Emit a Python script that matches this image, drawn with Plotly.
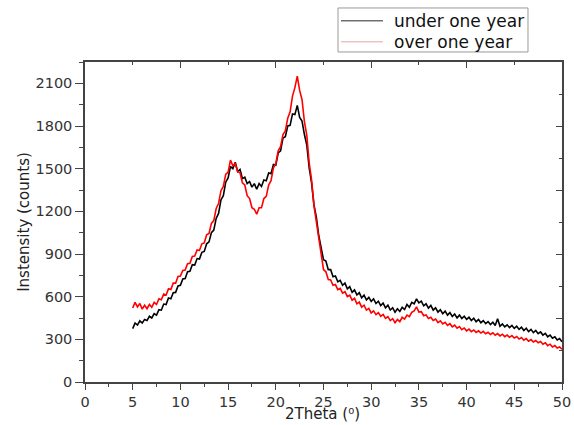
import plotly.graph_objects as go

# 2-theta sampling grid (degrees), 0.25 deg step from 5 to 50
theta_start, theta_step, n_points = 5.0, 0.25, 181
two_theta = [theta_start + theta_step * i for i in range(n_points)]

under_one_year = [
    375, 415, 400, 430, 415, 440, 432, 462, 450, 480, 470, 508, 505, 548, 545, 590,
    585, 628, 630, 675, 680, 725, 728, 775, 778, 825, 822, 868, 865, 912, 918, 972,
    985, 1050, 1068, 1150, 1185, 1280, 1310, 1405, 1435, 1515, 1500, 1545, 1480, 1495,
    1430, 1440, 1395, 1410, 1370, 1395, 1355, 1395, 1375, 1420, 1415, 1470, 1465, 1530,
    1525, 1610, 1625, 1715, 1725, 1800, 1805, 1885, 1880, 1945, 1860, 1835, 1740, 1665,
    1505, 1400, 1245, 1160, 1030, 955, 860, 850, 790, 790, 740, 745, 705, 715, 680, 695,
    655, 670, 630, 648, 612, 628, 592, 610, 577, 595, 566, 585, 552, 568, 537, 555,
    522, 540, 506, 522, 490, 515, 496, 525, 510, 545, 525, 560, 550, 585, 556, 568,
    536, 550, 520, 538, 505, 522, 491, 508, 480, 498, 470, 488, 461, 478, 451, 470,
    446, 462, 440, 455, 432, 448, 424, 440, 417, 432, 410, 425, 404, 420, 397, 445,
    392, 408, 387, 402, 382, 398, 377, 392, 370, 385, 362, 378, 354, 370, 347, 362,
    340, 352, 330, 342, 318, 330, 308, 318, 296, 305, 282]

over_one_year = [
    520, 560, 528, 552, 512, 540, 515, 545, 525, 560, 545, 585, 578, 618, 612, 655,
    650, 695, 695, 742, 745, 785, 788, 832, 835, 882, 885, 928, 925, 972, 978, 1035,
    1045, 1115, 1135, 1220, 1255, 1345, 1375, 1460, 1475, 1560, 1520, 1535, 1480, 1470,
    1400, 1385, 1310, 1290, 1225, 1215, 1180, 1225, 1225, 1290, 1305, 1385, 1415, 1505,
    1535, 1625, 1655, 1740, 1765, 1855, 1900, 2010, 2070, 2150, 2050, 1985, 1830, 1735,
    1540, 1420, 1240, 1130, 985, 890, 790, 775, 720, 718, 680, 685, 650, 658, 625, 635,
    600, 610, 575, 588, 550, 562, 526, 540, 506, 518, 486, 500, 474, 488, 462, 475,
    447, 460, 432, 445, 417, 440, 424, 455, 442, 470, 460, 490, 500, 528, 492, 495,
    466, 472, 447, 455, 432, 442, 418, 430, 408, 420, 398, 410, 388, 400, 378, 390,
    368, 380, 360, 372, 354, 366, 349, 360, 344, 356, 339, 350, 334, 346, 329, 340,
    324, 336, 319, 330, 314, 326, 309, 320, 302, 313, 294, 305, 287, 298, 281, 292,
    276, 285, 266, 276, 256, 266, 246, 256, 239, 246, 230]

series_names = ["under one year", "over one year"]
series_colors = ["#000000", "#ff0000"]
legend_sample_colors = ["#707070", "#eec2c2"]
x_title = "2Theta (\u2070)"
y_title = "Instensity (counts)"

FONT = "DejaVu Sans, Verdana, sans-serif"

fig = go.Figure()
for yvals, name, col in zip([under_one_year, over_one_year], series_names, series_colors):
    fig.add_trace(go.Scatter(x=two_theta, y=yvals, mode="lines", name=name,
                             line=dict(color=col, width=1.6), showlegend=False))
# dummy trace for the mirrored axes
fig.add_trace(go.Scatter(x=[None], y=[None], xaxis="x2", yaxis="y2",
                         showlegend=False, hoverinfo="skip"))

# boxed legend drawn in paper coordinates (above the plot, right side)
leg_x0, leg_x1, leg_y0, leg_y1 = 0.5304, 0.9287, 1.0313, 1.1688
row_y = [1.1291, 1.0634]
line_x0, line_x1, text_x = 0.5367, 0.6247, 0.6436
shapes = [dict(type="rect", xref="paper", yref="paper", x0=leg_x0, x1=leg_x1,
               y0=leg_y0, y1=leg_y1, line=dict(color="#9a9a9a", width=1),
               fillcolor="white", layer="above")]
annotations = []
for ry, name, col in zip(row_y, series_names, legend_sample_colors):
    shapes.append(dict(type="line", xref="paper", yref="paper", x0=line_x0, x1=line_x1,
                       y0=ry, y1=ry, line=dict(color=col, width=1.5), layer="above"))
    annotations.append(dict(xref="paper", yref="paper", x=text_x, y=ry, text=name,
                            showarrow=False, xanchor="left", yanchor="middle",
                            font=dict(family=FONT, size=17, color="#111111")))
# x-axis title, sitting at the bottom edge as in the reference
annotations.append(dict(xref="paper", yref="paper", x=0.497, y=-0.1344, text=x_title,
                        showarrow=False, xanchor="center", yanchor="bottom",
                        font=dict(family=FONT, size=15, color="#222222")))

axis_font = dict(family=FONT, size=14.5, color="#333333")
line_col = "#444444"

fig.update_layout(
    width=574, height=425,
    margin=dict(l=85, r=12, t=62, b=43),
    plot_bgcolor="white", paper_bgcolor="white",
    font=axis_font,
    showlegend=False,
    shapes=shapes,
    annotations=annotations,
    xaxis=dict(range=[0, 50], dtick=5, tick0=0, showgrid=False, zeroline=False,
               automargin=False,
               showline=True, linecolor=line_col, linewidth=1.5,
               ticks="outside", ticklen=6, tickwidth=1.3, tickcolor=line_col,
               minor=dict(dtick=2.5, ticks="outside", ticklen=3, tickcolor=line_col, tickwidth=1.2),
               tickfont=axis_font),
    yaxis=dict(range=[0, 2250], dtick=300, tick0=0, showgrid=False, zeroline=False,
               automargin=False,
               showline=True, linecolor=line_col, linewidth=1.5,
               ticks="outside", ticklen=8, tickwidth=1.3, tickcolor=line_col,
               minor=dict(dtick=150, ticks="outside", ticklen=4, tickcolor=line_col, tickwidth=1.2),
               tickfont=axis_font,
               title=dict(text=y_title, font=dict(family=FONT, size=15, color="#222222"), standoff=2)),
    xaxis2=dict(overlaying="x", side="top", range=[0, 50], dtick=10, tick0=0,
                automargin=False,
                showgrid=False, zeroline=False, showticklabels=False,
                showline=True, linecolor=line_col, linewidth=1.5,
                ticks="inside", ticklen=6, tickwidth=1.3, tickcolor=line_col,
                minor=dict(dtick=5, ticks="inside", ticklen=3, tickcolor=line_col, tickwidth=1.2)),
    yaxis2=dict(overlaying="y", side="right", range=[0, 2250], dtick=450, tick0=0,
                automargin=False,
                showgrid=False, zeroline=False, showticklabels=False,
                showline=True, linecolor=line_col, linewidth=1.5,
                ticks="inside", ticklen=6, tickwidth=1.3, tickcolor=line_col,
                minor=dict(dtick=225, ticks="inside", ticklen=3, tickcolor=line_col, tickwidth=1.2)),
)

fig.write_html("out.html", config={"displayModeBar": False},
               post_script="document.body.style.margin='0';document.body.style.padding='0';")
